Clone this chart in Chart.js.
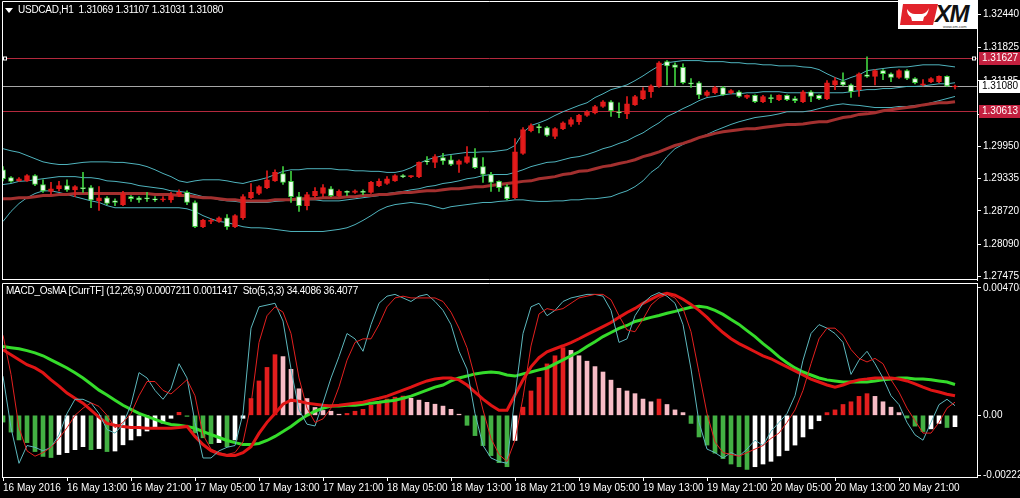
<!DOCTYPE html>
<html>
<head>
<meta charset="utf-8">
<script src="https://cdn.jsdelivr.net/npm/chart.js@4.4.1/dist/chart.umd.min.js"></script>
<style>
  html, body { margin: 0; padding: 0; background: #000; }
  body { width: 1020px; height: 498px; position: relative; overflow: hidden; font-family: "Liberation Sans", Arial, sans-serif; }
  #priceBox { position: absolute; left: 0; top: 0; }
  #oscBox { position: absolute; left: 0; top: 283px; }
  .caption { position: absolute; color: #fff; font-size: 10px; white-space: pre; letter-spacing: -0.25px; }
  #arrow { position: absolute; left: 5px; top: 8px; width: 0; height: 0; border-left: 4px solid transparent; border-right: 4px solid transparent; border-top: 5px solid #fff; }
  #logo { position: absolute; left: 898px; top: 0; }
</style>
</head>
<body>
<div id="priceBox"><canvas id="priceChart" width="1020" height="283"></canvas></div>
<div id="oscBox"><canvas id="oscChart" width="1020" height="215"></canvas></div>
<div id="arrow"></div>
<div class="caption" style="left:18px;top:4px">USDCAD,H1  1.31069 1.31107 1.31031 1.31080</div>
<div class="caption" style="left:6px;top:285px">MACD_OsMA [CurrTF] (12,26,9) 0.0007211 0.0011417  Sto(5,3,3) 34.4086 36.4077</div>
<svg id="logo" width="80" height="29">
  <rect width="80" height="29" fill="#fff"/>
  <polygon points="5,4 40,4 35,25 2,25" fill="#e2232b"/>
  <path d="M9,9 Q12,14 17,14 L24,14 Q29,13 31,8 Q30,15 26,17 L25,21 L14,21 L13,17 Q9,15 9,9 Z" fill="#fff"/>
  <text x="37" y="22" font-family="Liberation Sans, Arial" font-weight="bold" font-style="italic" font-size="24" fill="#111" letter-spacing="-1.5">XM</text>
  <text x="45" y="27.5" font-family="Liberation Sans, Arial" font-size="4" fill="#333">www.xm.com</text>
</svg>
<script>
// --- price data (USDCAD H1), one entry per bar ---
const timeLabels = ['16 May 2016', '16 May 13:00', '16 May 21:00', '17 May 05:00', '17 May 13:00',
  '17 May 21:00', '18 May 05:00', '18 May 13:00', '18 May 21:00', '19 May 05:00', '19 May 13:00',
  '19 May 21:00', '20 May 05:00', '20 May 13:00', '20 May 21:00'];
const barsPerLabel = 8;

const opens = [
  1.2950, 1.2935, 1.2929, 1.2929, 1.2939, 1.2922, 1.2909, 1.2914, 1.2920, 1.2912,
  1.2916, 1.2916, 1.2891, 1.2897, 1.2891, 1.2884, 1.2899, 1.2897, 1.2897, 1.2895,
  1.2893, 1.2893, 1.2903, 1.2907, 1.2888, 1.2842, 1.2852, 1.2852, 1.2859, 1.2842,
  1.2859, 1.2897, 1.2905, 1.2916, 1.2929, 1.2943, 1.2928, 1.2899, 1.2882, 1.2901,
  1.2905, 1.2914, 1.2901, 1.2909, 1.2907, 1.2909, 1.2907, 1.2920, 1.2924, 1.2929,
  1.2939, 1.2937, 1.2937, 1.2967, 1.2964, 1.2973, 1.2969, 1.2960, 1.2964, 1.2973,
  1.2956, 1.2941, 1.2928, 1.2918, 1.2897, 1.2981, 1.3024, 1.3032, 1.3030, 1.3013,
  1.3028, 1.3036, 1.3041, 1.3053, 1.3058, 1.3070, 1.3079, 1.3060, 1.3056, 1.3073,
  1.3085, 1.3098, 1.3108, 1.3155, 1.3149, 1.3144, 1.3115, 1.3115, 1.3091, 1.3096,
  1.3106, 1.3096, 1.3098, 1.3087, 1.3091, 1.3079, 1.3087, 1.3083, 1.3091, 1.3085,
  1.3079, 1.3098, 1.3091, 1.3085, 1.3111, 1.3117, 1.3111, 1.3102, 1.3130, 1.3127,
  1.3138, 1.3132, 1.3125, 1.3138, 1.3123, 1.3111, 1.3117, 1.3117, 1.3127, 1.31069];
const highs = [
  1.2956, 1.2937, 1.2935, 1.2941, 1.2941, 1.2931, 1.2926, 1.2928, 1.2931, 1.2920,
  1.2945, 1.2920, 1.2918, 1.2899, 1.2895, 1.2909, 1.2901, 1.2899, 1.2907, 1.2899,
  1.2899, 1.2907, 1.2912, 1.2910, 1.2891, 1.2856, 1.2857, 1.2861, 1.2865, 1.2865,
  1.2903, 1.2924, 1.2920, 1.2948, 1.2950, 1.2956, 1.2947, 1.2907, 1.2907, 1.2916,
  1.2922, 1.2918, 1.2912, 1.2910, 1.2912, 1.2912, 1.2928, 1.2933, 1.2937, 1.2941,
  1.2941, 1.2939, 1.2965, 1.2975, 1.2979, 1.2981, 1.2977, 1.2969, 1.2994, 1.2990,
  1.2973, 1.2945, 1.2929, 1.2922, 1.3009, 1.3030, 1.3037, 1.3036, 1.3032, 1.3030,
  1.3041, 1.3049, 1.3055, 1.3062, 1.3072, 1.3081, 1.3081, 1.3077, 1.3089, 1.3091,
  1.3106, 1.3111, 1.3155, 1.3157, 1.3153, 1.3151, 1.3123, 1.3117, 1.3100, 1.3108,
  1.3108, 1.3102, 1.3100, 1.3092, 1.3092, 1.3091, 1.3092, 1.3092, 1.3092, 1.3089,
  1.3100, 1.3100, 1.3092, 1.3119, 1.3125, 1.3134, 1.3113, 1.3134, 1.3164, 1.3140,
  1.3140, 1.3134, 1.3140, 1.3140, 1.3125, 1.3121, 1.3125, 1.3128, 1.3128, 1.31107];
const lows = [
  1.2929, 1.2926, 1.2928, 1.2928, 1.2920, 1.2907, 1.2903, 1.2910, 1.2909, 1.2899,
  1.2907, 1.2878, 1.2873, 1.2884, 1.2882, 1.2882, 1.2890, 1.2888, 1.2890, 1.2890,
  1.2890, 1.2888, 1.2899, 1.2884, 1.2840, 1.2840, 1.2848, 1.2850, 1.2837, 1.2840,
  1.2856, 1.2895, 1.2903, 1.2914, 1.2928, 1.2922, 1.2888, 1.2871, 1.2874, 1.2897,
  1.2899, 1.2899, 1.2899, 1.2901, 1.2905, 1.2903, 1.2905, 1.2918, 1.2922, 1.2928,
  1.2935, 1.2935, 1.2935, 1.2960, 1.2954, 1.2960, 1.2958, 1.2945, 1.2962, 1.2952,
  1.2926, 1.2909, 1.2909, 1.2893, 1.2895, 1.2979, 1.3022, 1.3020, 1.3013, 1.3009,
  1.3026, 1.3032, 1.3036, 1.3051, 1.3056, 1.3068, 1.3051, 1.3049, 1.3047, 1.3072,
  1.3083, 1.3087, 1.3106, 1.3111, 1.3109, 1.3113, 1.3106, 1.3085, 1.3089, 1.3094,
  1.3091, 1.3094, 1.3087, 1.3085, 1.3077, 1.3077, 1.3077, 1.3081, 1.3081, 1.3077,
  1.3077, 1.3079, 1.3083, 1.3083, 1.3102, 1.3109, 1.3087, 1.3089, 1.3125, 1.3111,
  1.3121, 1.3117, 1.3123, 1.3121, 1.3113, 1.3109, 1.3115, 1.3115, 1.3108, 1.31031];
const closes = [
  1.2933, 1.2928, 1.2933, 1.2939, 1.2922, 1.2910, 1.2914, 1.2920, 1.2912, 1.2918,
  1.2914, 1.2893, 1.2897, 1.2886, 1.2888, 1.2905, 1.2895, 1.2893, 1.2895, 1.2893,
  1.2895, 1.2901, 1.2907, 1.2888, 1.2842, 1.2854, 1.2854, 1.2859, 1.2842, 1.2863,
  1.2899, 1.2907, 1.2918, 1.2931, 1.2945, 1.2926, 1.2899, 1.2882, 1.2903, 1.2909,
  1.2916, 1.2901, 1.2909, 1.2907, 1.2910, 1.2907, 1.2926, 1.2928, 1.2933, 1.2939,
  1.2937, 1.2938, 1.2964, 1.2965, 1.2975, 1.2967, 1.2960, 1.2967, 1.2975, 1.2954,
  1.2941, 1.2926, 1.2916, 1.2895, 1.2984, 1.3026, 1.3034, 1.3030, 1.3015, 1.3028,
  1.3039, 1.3045, 1.3053, 1.3060, 1.3070, 1.3079, 1.3062, 1.3058, 1.3075, 1.3089,
  1.3100, 1.3109, 1.3153, 1.3147, 1.3144, 1.3115, 1.3113, 1.3092, 1.3098, 1.3106,
  1.3092, 1.3100, 1.3089, 1.3091, 1.3079, 1.3089, 1.3085, 1.3091, 1.3083, 1.3081,
  1.3098, 1.3089, 1.3085, 1.3115, 1.3119, 1.3111, 1.3098, 1.3132, 1.3127, 1.3138,
  1.3132, 1.3125, 1.3138, 1.3123, 1.3115, 1.3113, 1.3123, 1.3127, 1.3109, 1.31080];

const bbUpper = [
  1.2990, 1.2986, 1.2983, 1.2977, 1.2971, 1.2965, 1.2962, 1.2960, 1.2960, 1.2962,
  1.2964, 1.2965, 1.2965, 1.2965, 1.2964, 1.2964, 1.2962, 1.2960, 1.2956, 1.2950,
  1.2943, 1.2937, 1.2929, 1.2926, 1.2929, 1.2931, 1.2931, 1.2931, 1.2929, 1.2926,
  1.2924, 1.2928, 1.2931, 1.2935, 1.2941, 1.2947, 1.2950, 1.2950, 1.2952, 1.2952,
  1.2952, 1.2952, 1.2950, 1.2950, 1.2948, 1.2948, 1.2947, 1.2947, 1.2945, 1.2945,
  1.2948, 1.2954, 1.2962, 1.2969, 1.2973, 1.2977, 1.2979, 1.2981, 1.2983, 1.2983,
  1.2984, 1.2984, 1.2986, 1.2988, 1.2996, 1.3020, 1.3034, 1.3039, 1.3045, 1.3053,
  1.3060, 1.3066, 1.3072, 1.3077, 1.3087, 1.3094, 1.3102, 1.3106, 1.3111, 1.3119,
  1.3128, 1.3138, 1.3147, 1.3153, 1.3155, 1.3157, 1.3157, 1.3157, 1.3155, 1.3155,
  1.3155, 1.3153, 1.3153, 1.3151, 1.3151, 1.3149, 1.3149, 1.3147, 1.3147, 1.3147,
  1.3145, 1.3144, 1.3140, 1.3132, 1.3125, 1.3119, 1.3125, 1.3130, 1.3138, 1.3140,
  1.3142, 1.3144, 1.3145, 1.3145, 1.3147, 1.3149, 1.3149, 1.3149, 1.3147, 1.3145];
const bbMiddle = [
  1.2922, 1.2924, 1.2928, 1.2929, 1.2931, 1.2933, 1.2935, 1.2937, 1.2937, 1.2937,
  1.2935, 1.2935, 1.2933, 1.2929, 1.2928, 1.2926, 1.2924, 1.2920, 1.2918, 1.2916,
  1.2914, 1.2910, 1.2909, 1.2907, 1.2903, 1.2899, 1.2897, 1.2893, 1.2891, 1.2890,
  1.2888, 1.2888, 1.2888, 1.2888, 1.2890, 1.2891, 1.2893, 1.2893, 1.2893, 1.2893,
  1.2891, 1.2891, 1.2891, 1.2893, 1.2895, 1.2897, 1.2899, 1.2901, 1.2905, 1.2907,
  1.2909, 1.2912, 1.2914, 1.2918, 1.2920, 1.2924, 1.2926, 1.2929, 1.2933, 1.2935,
  1.2939, 1.2941, 1.2941, 1.2941, 1.2945, 1.2950, 1.2956, 1.2960, 1.2964, 1.2965,
  1.2969, 1.2973, 1.2975, 1.2979, 1.2984, 1.2990, 1.2994, 1.3000, 1.3005, 1.3013,
  1.3020, 1.3030, 1.3039, 1.3051, 1.3058, 1.3066, 1.3073, 1.3081, 1.3087, 1.3089,
  1.3092, 1.3094, 1.3094, 1.3096, 1.3096, 1.3098, 1.3098, 1.3098, 1.3096, 1.3096,
  1.3096, 1.3096, 1.3096, 1.3096, 1.3096, 1.3096, 1.3098, 1.3100, 1.3102, 1.3102,
  1.3104, 1.3104, 1.3106, 1.3108, 1.3108, 1.3109, 1.3111, 1.3113, 1.3113, 1.3115];
const bbLower = [
  1.2852, 1.2871, 1.2886, 1.2897, 1.2905, 1.2910, 1.2910, 1.2907, 1.2903, 1.2899,
  1.2895, 1.2891, 1.2888, 1.2882, 1.2878, 1.2878, 1.2878, 1.2878, 1.2878, 1.2878,
  1.2878, 1.2878, 1.2878, 1.2876, 1.2871, 1.2863, 1.2857, 1.2852, 1.2850, 1.2846,
  1.2842, 1.2840, 1.2840, 1.2839, 1.2837, 1.2835, 1.2833, 1.2833, 1.2833, 1.2833,
  1.2833, 1.2835, 1.2837, 1.2840, 1.2846, 1.2854, 1.2863, 1.2873, 1.2880, 1.2884,
  1.2886, 1.2888, 1.2886, 1.2884, 1.2880, 1.2876, 1.2880, 1.2882, 1.2884, 1.2886,
  1.2888, 1.2888, 1.2890, 1.2891, 1.2893, 1.2893, 1.2891, 1.2890, 1.2890, 1.2891,
  1.2891, 1.2893, 1.2893, 1.2895, 1.2895, 1.2897, 1.2899, 1.2905, 1.2910, 1.2918,
  1.2929, 1.2945, 1.2956, 1.2975, 1.2990, 1.2998, 1.3005, 1.3011, 1.3017, 1.3024,
  1.3030, 1.3036, 1.3041, 1.3045, 1.3049, 1.3051, 1.3053, 1.3056, 1.3060, 1.3060,
  1.3060, 1.3062, 1.3066, 1.3070, 1.3073, 1.3075, 1.3073, 1.3072, 1.3070, 1.3068,
  1.3068, 1.3068, 1.3070, 1.3070, 1.3072, 1.3073, 1.3077, 1.3081, 1.3085, 1.3089];
const movingAvg = [
  1.2895, 1.2895, 1.2897, 1.2897, 1.2899, 1.2901, 1.2901, 1.2903, 1.2903, 1.2905,
  1.2905, 1.2905, 1.2905, 1.2905, 1.2905, 1.2905, 1.2905, 1.2905, 1.2905, 1.2903,
  1.2903, 1.2903, 1.2901, 1.2901, 1.2899, 1.2897, 1.2897, 1.2895, 1.2893, 1.2893,
  1.2891, 1.2891, 1.2891, 1.2891, 1.2893, 1.2893, 1.2893, 1.2895, 1.2895, 1.2895,
  1.2897, 1.2897, 1.2897, 1.2899, 1.2899, 1.2901, 1.2901, 1.2903, 1.2903, 1.2905,
  1.2907, 1.2907, 1.2909, 1.2910, 1.2910, 1.2912, 1.2914, 1.2914, 1.2916, 1.2918,
  1.2918, 1.2920, 1.2922, 1.2924, 1.2926, 1.2928, 1.2929, 1.2933, 1.2935, 1.2937,
  1.2941, 1.2943, 1.2947, 1.2948, 1.2952, 1.2956, 1.2958, 1.2962, 1.2965, 1.2969,
  1.2975, 1.2979, 1.2984, 1.2990, 1.2996, 1.3000, 1.3005, 1.3011, 1.3015, 1.3019,
  1.3022, 1.3024, 1.3026, 1.3028, 1.3028, 1.3030, 1.3032, 1.3034, 1.3036, 1.3036,
  1.3037, 1.3039, 1.3041, 1.3041, 1.3045, 1.3049, 1.3051, 1.3055, 1.3056, 1.3058,
  1.3062, 1.3064, 1.3066, 1.3068, 1.3070, 1.3073, 1.3075, 1.3077, 1.3077, 1.3079];

const priceTicks = [1.32440, 1.31825, 1.31185, 1.30550, 1.29950, 1.29335, 1.28720, 1.28090, 1.27475];
const levelValues = [1.31627, 1.31080, 1.30613];

// --- oscillator data ---
const osma = [
  -0.00025, -0.00062, -0.00091, -0.00101, -0.00134, -0.00152, -0.00156, -0.00145, -0.00138, -0.00127,
  -0.00116, -0.00127, -0.00123, -0.00134, -0.00132, -0.00109, -0.00091, -0.00076, -0.00058, -0.00043,
  -0.00029, -0.00011, 0.00011, -0.00004, -0.00065, -0.00083, -0.00105, -0.00101, -0.00116, -0.00091,
  -0.00011, 0.00062, 0.00127, 0.00177, 0.00224, 0.00217, 0.00170, 0.00098, 0.00062, 0.00029,
  0.00018, 0.00015, 0.00004, 0.00007, 0.00015, 0.00022, 0.00037, 0.00048, 0.00060, 0.00067,
  0.00071, 0.00063, 0.00056, 0.00048, 0.00041, 0.00034, 0.00022, 0.00004, -0.00037, -0.00075,
  -0.00112, -0.00149, -0.00175, -0.00190, -0.00093, 0.00030, 0.00090, 0.00140, 0.00190, 0.00220,
  0.00250, 0.00240, 0.00220, 0.00200, 0.00180, 0.00160, 0.00130, 0.00100, 0.00090, 0.00080,
  0.00060, 0.00050, 0.00060, 0.00040, 0.00020, 0.00010, -0.00030, -0.00080, -0.00110, -0.00140,
  -0.00160, -0.00180, -0.00190, -0.00200, -0.00190, -0.00180, -0.00170, -0.00150, -0.00130, -0.00110,
  -0.00080, -0.00050, -0.00020, 0.00010, 0.00020, 0.00040, 0.00050, 0.00070, 0.00080, 0.00070,
  0.00050, 0.00030, 0.00010, -0.00010, -0.00040, -0.00060, -0.00050, -0.00030, -0.00045, -0.00042];
const macdMain = [
  0.00242, 0.00224, 0.00205, 0.00187, 0.00175, 0.00157, 0.00131, 0.00108, 0.00082, 0.00063,
  0.00045, 0.00019, -0.00007, -0.00030, -0.00037, -0.00041, -0.00045, -0.00045, -0.00048, -0.00048,
  -0.00048, -0.00048, -0.00045, -0.00041, -0.00078, -0.00108, -0.00131, -0.00142, -0.00149, -0.00149,
  -0.00138, -0.00116, -0.00067, -0.00026, 0.00007, 0.00041, 0.00056, 0.00052, 0.00045, 0.00041,
  0.00037, 0.00034, 0.00037, 0.00041, 0.00045, 0.00048, 0.00056, 0.00063, 0.00071, 0.00082,
  0.00093, 0.00104, 0.00116, 0.00127, 0.00134, 0.00138, 0.00138, 0.00131, 0.00112, 0.00086,
  0.00060, 0.00037, 0.00019, 0.00019, 0.00075, 0.00131, 0.00179, 0.00213, 0.00235, 0.00246,
  0.00257, 0.00269, 0.00283, 0.00298, 0.00313, 0.00328, 0.00343, 0.00362, 0.00380, 0.00395,
  0.00414, 0.00429, 0.00444, 0.00451, 0.00444, 0.00429, 0.00410, 0.00388, 0.00362, 0.00332,
  0.00306, 0.00283, 0.00265, 0.00250, 0.00235, 0.00220, 0.00209, 0.00194, 0.00179, 0.00164,
  0.00149, 0.00134, 0.00123, 0.00112, 0.00104, 0.00112, 0.00123, 0.00131, 0.00134, 0.00138,
  0.00138, 0.00138, 0.00134, 0.00127, 0.00116, 0.00104, 0.00093, 0.00086, 0.00078, 0.00072];
const macdSignal = [
  0.00254, 0.00250, 0.00246, 0.00239, 0.00231, 0.00220, 0.00205, 0.00190, 0.00175, 0.00157,
  0.00138, 0.00116, 0.00093, 0.00075, 0.00056, 0.00037, 0.00022, 0.00007, -0.00004, -0.00015,
  -0.00026, -0.00034, -0.00037, -0.00041, -0.00048, -0.00060, -0.00071, -0.00082, -0.00093, -0.00101,
  -0.00108, -0.00108, -0.00104, -0.00093, -0.00078, -0.00060, -0.00041, -0.00019, 0.00000, 0.00015,
  0.00026, 0.00034, 0.00034, 0.00037, 0.00037, 0.00041, 0.00045, 0.00048, 0.00052, 0.00056,
  0.00063, 0.00071, 0.00082, 0.00093, 0.00104, 0.00112, 0.00127, 0.00138, 0.00145, 0.00153,
  0.00157, 0.00160, 0.00157, 0.00149, 0.00145, 0.00153, 0.00160, 0.00168, 0.00175, 0.00190,
  0.00205, 0.00220, 0.00235, 0.00254, 0.00272, 0.00291, 0.00306, 0.00321, 0.00332, 0.00347,
  0.00354, 0.00362, 0.00369, 0.00377, 0.00384, 0.00392, 0.00399, 0.00403, 0.00399, 0.00388,
  0.00373, 0.00354, 0.00336, 0.00313, 0.00291, 0.00265, 0.00242, 0.00216, 0.00194, 0.00175,
  0.00160, 0.00149, 0.00138, 0.00131, 0.00127, 0.00123, 0.00123, 0.00123, 0.00123, 0.00127,
  0.00131, 0.00134, 0.00138, 0.00138, 0.00134, 0.00134, 0.00131, 0.00127, 0.00123, 0.00114];
const stochK = [
  51, 22, 2, 12, 11, 9, 11, 18, 30, 38,
  38, 36, 30, 21, 19, 24, 35, 53, 50, 43,
  38, 44, 58, 50, 25, 5, 5, 9, 11, 12,
  30, 78, 90, 91, 92, 82, 55, 32, 24, 23,
  36, 50, 62, 75, 72, 65, 80, 92, 96, 97,
  95, 93, 96, 97, 93, 88, 80, 65, 55, 30,
  12, 5, 3, 2, 40, 75, 90, 92, 85, 88,
  93, 95, 96, 97, 97, 96, 88, 70, 72, 85,
  92, 96, 98, 96, 92, 80, 55, 25, 10, 8,
  5, 8, 6, 10, 15, 12, 20, 25, 30, 40,
  60, 75, 80, 78, 75, 70, 52, 60, 65, 58,
  50, 40, 35, 25, 18, 15, 25, 35, 38, 34.4];
const stochD = [
  74, 52, 22, 9, 6, 8, 11, 16, 22, 29,
  33, 36, 34, 29, 22, 25, 30, 40, 48, 48,
  43, 41, 45, 49, 40, 18, 10, 8, 7, 8,
  14, 35, 70, 85, 90, 87, 75, 50, 33, 25,
  27, 33, 45, 60, 70, 72, 72, 80, 90, 95,
  96, 95, 95, 95, 95, 93, 87, 78, 67, 50,
  32, 16, 7, 3, 15, 39, 68, 86, 89, 88,
  89, 92, 95, 96, 97, 97, 94, 85, 77, 76,
  83, 91, 95, 97, 95, 89, 76, 53, 30, 14,
  8, 7, 6, 8, 10, 12, 16, 19, 25, 32,
  43, 58, 72, 78, 78, 74, 66, 61, 59, 61,
  58, 49, 42, 33, 26, 19, 19, 25, 33, 36.4];
const oscTicks = [0.004708, 0, -0.002225];

// --- colours & geometry ---
const bullColor = '#e31b1b';
const bearEdge = '#3fcf3f';
const bearFill = '#effff0';
const bandColor = '#4fb3bd';
const maColor = '#a3302f';
const levelStyles = [
  { line: '#b3293d', box: '#c3203f', text: '#ffffff' },
  { line: '#a6a6a6', box: '#ffffff', text: '#000000' },
  { line: '#b3293d', box: '#c3203f', text: '#ffffff' }
];
const tickFont = { family: "'Liberation Sans', Arial, sans-serif", size: 10 };
const xMin = -0.125;
const xMax = 121.75;

const pts = arr => arr.map((v, i) => ({ x: i, y: v }));
const isBull = i => closes[i] >= opens[i];

const framePlugin = {
  id: 'frame',
  afterDraw(chart, args, opts) {
    const { ctx, chartArea: a } = chart;
    ctx.save();
    ctx.strokeStyle = '#ffffff';
    ctx.lineWidth = 1;
    ctx.beginPath();
    ctx.moveTo(a.left + 0.5, a.bottom);
    ctx.lineTo(a.left + 0.5, a.top + 0.5);
    ctx.lineTo(a.right, a.top + 0.5);
    if (opts.bottom) {
      ctx.moveTo(a.left, a.bottom - 0.5);
      ctx.lineTo(a.right, a.bottom - 0.5);
    }
    ctx.stroke();
    ctx.restore();
  }
};

const levelPlugin = {
  id: 'levels',
  beforeDatasetsDraw(chart) {
    const { ctx, chartArea: a, scales: { y } } = chart;
    ctx.save();
    ctx.lineWidth = 1;
    levelValues.forEach((v, k) => {
      const py = Math.round(y.getPixelForValue(v)) + 0.5;
      ctx.strokeStyle = levelStyles[k].line;
      ctx.beginPath();
      ctx.moveTo(a.left, py);
      ctx.lineTo(a.right, py);
      ctx.stroke();
    });
    ctx.restore();
  },
  afterDraw(chart) {
    const { ctx, chartArea: a, scales: { y } } = chart;
    ctx.save();
    ctx.font = "10px 'Liberation Sans', Arial, sans-serif";
    ctx.textBaseline = 'middle';
    levelValues.forEach((v, k) => {
      const py = Math.round(y.getPixelForValue(v));
      ctx.fillStyle = levelStyles[k].box;
      ctx.fillRect(a.right + 2, py - 6, 41, 13);
      ctx.fillStyle = levelStyles[k].text;
      ctx.fillText(v.toFixed(5), a.right + 5, py + 0.5);
    });
    // selection markers on the upper level line
    const py = Math.round(y.getPixelForValue(levelValues[0])) + 0.5;
    ctx.strokeStyle = '#ffffff';
    ctx.fillStyle = '#000000';
    [a.left + 1.5, a.right - 4.5].forEach(px => {
      ctx.fillRect(px, py - 1.5, 3, 3);
      ctx.strokeRect(px, py - 1.5, 3, 3);
    });
    ctx.restore();
  }
};

new Chart(document.getElementById('priceChart'), {
  type: 'bar',
  data: {
    datasets: [
      { type: 'line', label: 'BB upper', data: pts(bbUpper), borderColor: bandColor, borderWidth: 1, pointRadius: 0, order: 6 },
      { type: 'line', label: 'BB middle', data: pts(bbMiddle), borderColor: bandColor, borderWidth: 1, pointRadius: 0, order: 5 },
      { type: 'line', label: 'BB lower', data: pts(bbLower), borderColor: bandColor, borderWidth: 1, pointRadius: 0, order: 4 },
      { type: 'line', label: 'MA', data: pts(movingAvg), borderColor: maColor, borderWidth: 3, pointRadius: 0, order: 3 },
      {
        label: 'wick',
        data: lows.map((l, i) => ({ x: i, y: [l, highs[i]] })),
        backgroundColor: lows.map((l, i) => isBull(i) ? bullColor : bearEdge),
        barThickness: 1, grouped: false, order: 1
      },
      {
        label: 'body',
        data: opens.map((o, i) => ({ x: i, y: [o, closes[i]] })),
        backgroundColor: opens.map((o, i) => isBull(i) ? bullColor : bearFill),
        borderColor: opens.map((o, i) => isBull(i) ? bullColor : bearEdge),
        borderWidth: 1, borderSkipped: false, minBarLength: 1,
        barThickness: 5, grouped: false, order: 0
      }
    ]
  },
  options: {
    responsive: false,
    animation: false,
    events: [],
    layout: { padding: { left: 2, top: 1, right: 0, bottom: 3 } },
    plugins: { legend: { display: false }, tooltip: { enabled: false }, frame: { bottom: true } },
    scales: {
      x: { type: 'linear', min: xMin, max: xMax, offset: false, display: false },
      y: {
        position: 'right', min: 1.2741, max: 1.3270,
        afterBuildTicks: s => { s.ticks = priceTicks.map(v => ({ value: v })); },
        afterFit: s => { s.width = 43; s.paddingTop = 0; s.paddingBottom = 0; },
        ticks: { color: '#ffffff', font: tickFont, padding: 2, autoSkip: false, callback: v => Number(v).toFixed(5) },
        grid: { drawOnChartArea: false, color: '#ffffff', tickLength: 4 },
        border: { color: '#ffffff' }
      }
    }
  },
  plugins: [framePlugin, levelPlugin]
});

const osmaColors = osma.map((v, i) => {
  const prev = i ? osma[i - 1] : v;
  if (v >= 0) return v >= prev ? '#e31e1e' : '#f7bcc6';
  return v <= prev ? '#43b043' : '#ffffff';
});

new Chart(document.getElementById('oscChart'), {
  type: 'bar',
  data: {
    datasets: [
      { label: 'OsMA', data: pts(osma), backgroundColor: osmaColors, barThickness: 4, grouped: false, yAxisID: 'y', order: 4 },
      { type: 'line', label: 'Signal', data: pts(macdSignal), borderColor: '#35dc2b', borderWidth: 3, pointRadius: 0, yAxisID: 'y', order: 3 },
      { type: 'line', label: 'MACD', data: pts(macdMain), borderColor: '#e01515', borderWidth: 3, pointRadius: 0, yAxisID: 'y', order: 2 },
      { type: 'line', label: '%K', data: pts(stochK), borderColor: '#5db7bd', borderWidth: 1, pointRadius: 0, yAxisID: 'y2', order: 1 },
      { type: 'line', label: '%D', data: pts(stochD), borderColor: '#e3201f', borderWidth: 1, pointRadius: 0, yAxisID: 'y2', order: 0 }
    ]
  },
  options: {
    responsive: false,
    animation: false,
    events: [],
    layout: { padding: { left: 2, top: 0, right: 0, bottom: 0 } },
    plugins: { legend: { display: false }, tooltip: { enabled: false }, frame: { bottom: false } },
    scales: {
      x: {
        type: 'linear', min: xMin, max: xMax, offset: false, position: 'bottom',
        afterBuildTicks: s => { s.ticks = timeLabels.map((t, k) => ({ value: k * barsPerLabel })); },
        afterFit: s => { s.height = 21; s.paddingLeft = 0; s.paddingRight = 0; },
        ticks: { color: '#ffffff', font: tickFont, align: 'start', padding: 1, autoSkip: false, maxRotation: 0,
          callback: v => timeLabels[Math.round(v / barsPerLabel)] },
        grid: { drawOnChartArea: false, offset: false, color: '#ffffff', tickLength: 4 },
        border: { color: '#ffffff' }
      },
      y: {
        position: 'right', min: -0.00228, max: 0.00489,
        afterBuildTicks: s => { s.ticks = oscTicks.map(v => ({ value: v })); },
        afterFit: s => { s.width = 43; s.paddingTop = 0; s.paddingBottom = 0; },
        ticks: { color: '#ffffff', font: tickFont, padding: 2, autoSkip: false, callback: v => v === 0 ? '0.00' : String(v) },
        grid: { drawOnChartArea: false, color: '#ffffff', tickLength: 4 },
        border: { color: '#ffffff' }
      },
      y2: { display: false, min: -5.7, max: 103.4 }
    }
  },
  plugins: [framePlugin]
});
</script>
</body>
</html>
